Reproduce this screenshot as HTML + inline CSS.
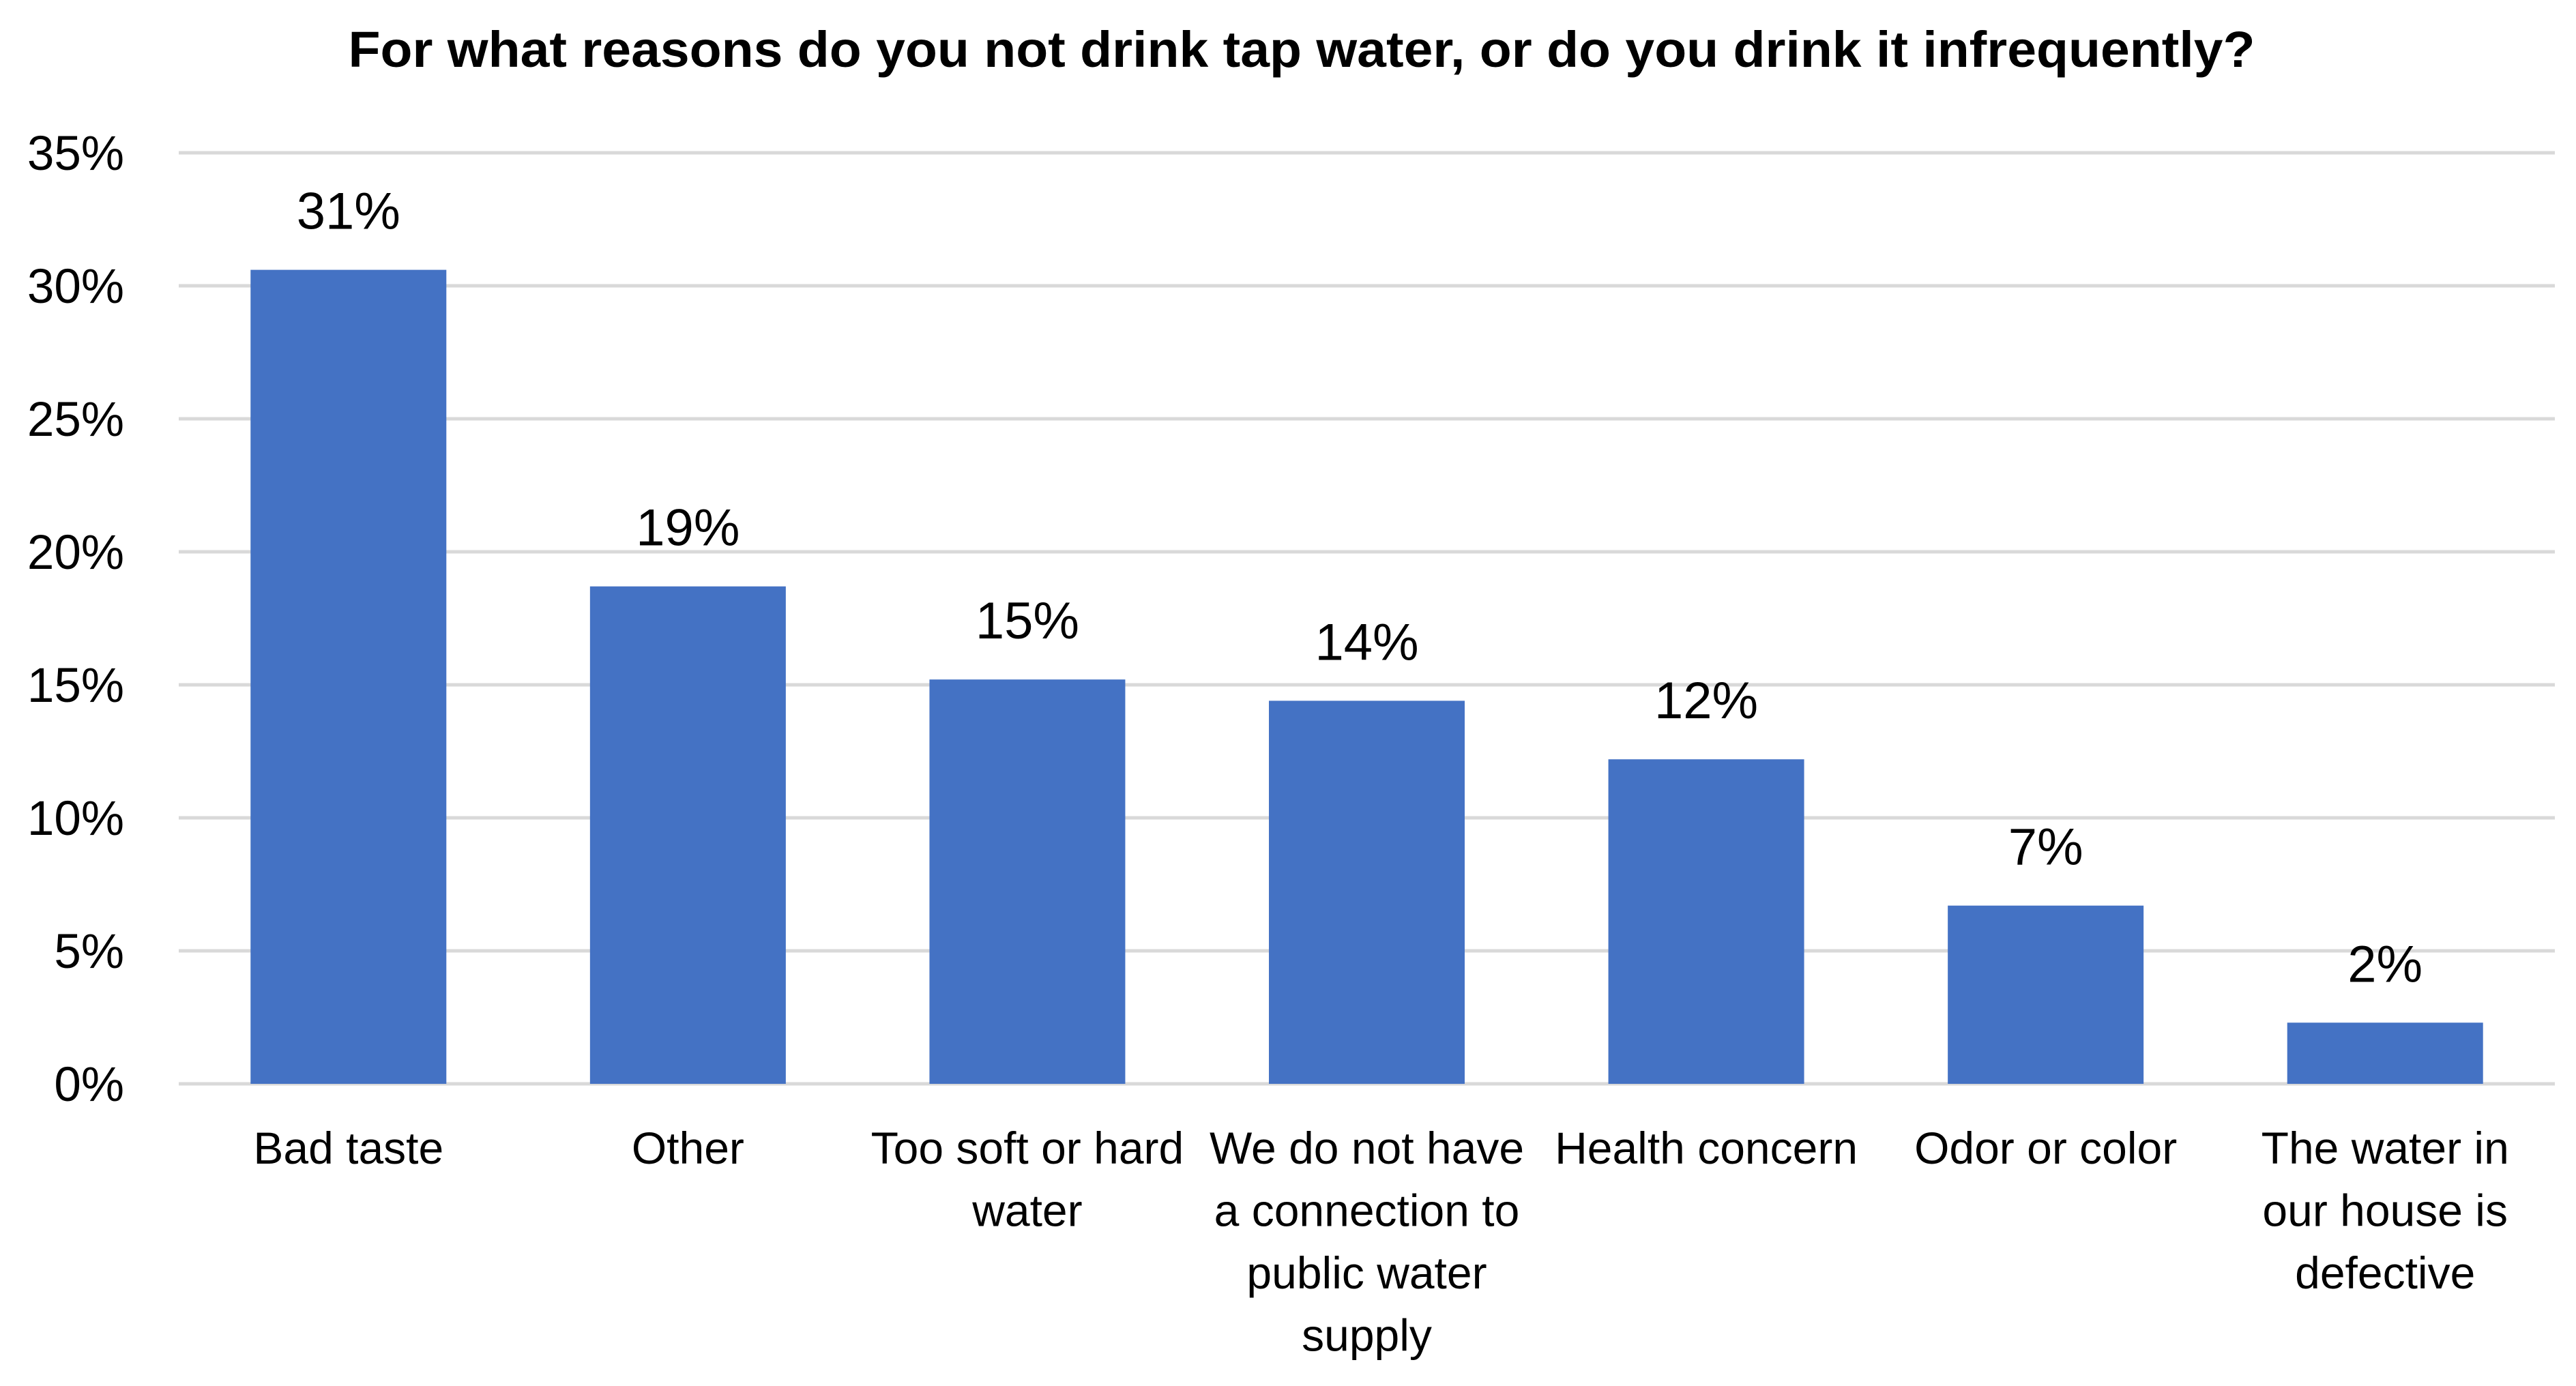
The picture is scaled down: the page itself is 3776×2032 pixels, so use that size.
<!DOCTYPE html>
<html><head><meta charset="utf-8"><style>html,body{margin:0;padding:0;background:#fff}svg{display:block}</style></head>
<body>
<svg id="chart" width="3776" height="2032" viewBox="0 0 3776 2032" xmlns="http://www.w3.org/2000/svg" font-family="'Liberation Sans', sans-serif">
<text x="1908" y="98" text-anchor="middle" font-weight="bold" font-size="74" textLength="2795" lengthAdjust="spacingAndGlyphs">For what reasons do you not drink tap water, or do you drink it infrequently?</text>
<g id="grid"></g><g id="bars"></g><g id="labels"></g>
</svg>
<script>
const categories = [["Bad taste"],["Other"],["Too soft or hard","water"],["We do not have","a connection to","public water","supply"],["Health concern"],["Odor or color"],["The water in","our house is","defective"]];
const values = [30.6, 18.7, 15.2, 14.4, 12.2, 6.7, 2.3];
const valueLabels = ["31%","19%","15%","14%","12%","7%","2%"];
const ticks = [0,5,10,15,20,25,30,35];
const tickLabels = ["0%","5%","10%","15%","20%","25%","30%","35%"];

const NS="http://www.w3.org/2000/svg";
const x0=262,x1=3745,y0=1589,yTop=224,maxV=35;
const band=(x1-x0)/categories.length, barW=287;
const y=v=>y0-(v/maxV)*(y0-yTop);
const cx=i=>x0+band*(i+0.5);
function mk(tag,attrs,parent){const e=document.createElementNS(NS,tag);for(const k in attrs)e.setAttribute(k,attrs[k]);document.getElementById(parent).appendChild(e);return e;}
ticks.forEach((t,i)=>{
  const l=mk('line',{x1:x0,x2:x1,y1:y(t),y2:y(t),stroke:'#d9d9d9','stroke-width':5},'grid');
  
  
  const tx=mk('text',{x:182,y:y(t)+25,'text-anchor':'end','font-size':71,fill:'#000'},'grid');
  tx.textContent=tickLabels[i];
  
  
});
values.forEach((v,i)=>{
  const r=mk('rect',{x:cx(i)-barW/2,y:y(v),width:barW,height:y0-y(v),fill:'#4472c4'},'bars');
  
  
  const t=mk('text',{x:cx(i),y:y(v)-60,'text-anchor':'middle','font-size':76,fill:'#000'},'labels');
  t.textContent=valueLabels[i];
  
  
  categories[i].forEach((line,j)=>{
    const c=mk('text',{x:cx(i),y:1706+j*91.5,'text-anchor':'middle','font-size':66,fill:'#000'},'labels');
    c.textContent=line;
    
    
  });
});
</script>
</body></html>
